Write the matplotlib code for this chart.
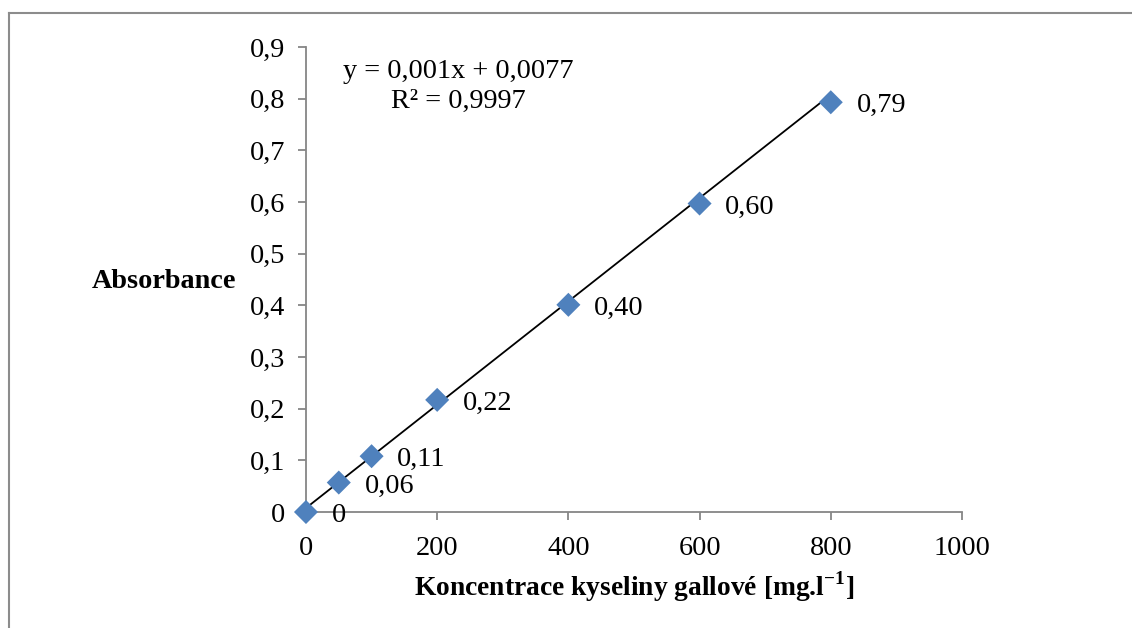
import matplotlib.pyplot as plt
from matplotlib.lines import Line2D

plt.rcParams['font.family'] = ['Liberation Serif', 'DejaVu Serif']
plt.rcParams['mathtext.fontset'] = 'custom'
plt.rcParams['mathtext.rm'] = 'Liberation Serif'
plt.rcParams['mathtext.bf'] = 'Liberation Serif:bold'

# gallic acid calibration
conc = [0, 50, 100, 200, 400, 600, 800]
absorbance = [0.0, 0.057, 0.108, 0.217, 0.401, 0.597, 0.793]
point_labels = ['0', '0,06', '0,11', '0,22', '0,40', '0,60', '0,79']
slope, intercept = 0.001, 0.0077
fit_x = [0, 800]
x_ticks = [0, 200, 400, 600, 800, 1000]
y_ticks = [0, 0.1, 0.2, 0.3, 0.4, 0.5, 0.6, 0.7, 0.8, 0.9]
y_ticklabels = ['0', '0,1', '0,2', '0,3', '0,4', '0,5', '0,6', '0,7', '0,8', '0,9']

fig = plt.figure(figsize=(11.32, 6.28), dpi=100)
ax = fig.add_axes([0.2703, 0.1847, 0.5795, 0.7405])

grey = '#868686'
fs = 20.3

ax.plot(fit_x, [slope * v + intercept for v in fit_x], color='black', lw=1.3, zorder=2)
ax.scatter(conc, absorbance, marker='D', s=150, color='#4F81BD', edgecolors='none',
           zorder=3, clip_on=False)
for xv, yv, lab in zip(conc, absorbance, point_labels):
    ax.annotate(lab, (xv, yv), xytext=(18.5, -2.5), textcoords='offset points',
                fontsize=fs, va='center', ha='left')

ax.set_xlim(0, 1000)
ax.set_ylim(0, 0.9)
ax.set_xticks(x_ticks)
ax.set_xticklabels([str(v) for v in x_ticks])
ax.set_yticks(y_ticks)
ax.set_yticklabels(y_ticklabels)
ax.tick_params(axis='both', labelsize=fs, color=grey, length=6, width=1.3, direction='out')
ax.tick_params(axis='y', pad=9)
ax.tick_params(axis='x', pad=11)

for side in ('top', 'right'):
    ax.spines[side].set_visible(False)
for side in ('left', 'bottom'):
    ax.spines[side].set_color(grey)
    ax.spines[side].set_linewidth(1.3)

ax.set_xlabel('Koncentrace kyseliny gallové [mg.l$^{\\mathbf{-1}}$]', fontsize=fs - 0.5,
              fontweight='bold', labelpad=6)
fig.text(164.5 / 1132, 1 - 281 / 628, 'Absorbance', fontsize=fs, fontweight='bold',
         ha='center', va='center')

ax.text(458.5 / 1132, 1 - 72 / 628, 'y = 0,001x + 0,0077', transform=fig.transFigure,
        fontsize=fs, ha='center', va='center')
ax.text(458.5 / 1132, 1 - 101 / 628, 'R² = 0,9997', transform=fig.transFigure,
        fontsize=fs, ha='center', va='center')

# outer chart frame (only top and left edges fall inside the canvas)
fig.add_artist(Line2D([8.5 / 1132, 8.5 / 1132], [0, 1 - 12.5 / 628], color='#8c8c8c', lw=1.5))
fig.add_artist(Line2D([8.5 / 1132, 1], [1 - 12.5 / 628, 1 - 12.5 / 628], color='#8c8c8c', lw=1.5))

fig.savefig('out.png', dpi=100)
